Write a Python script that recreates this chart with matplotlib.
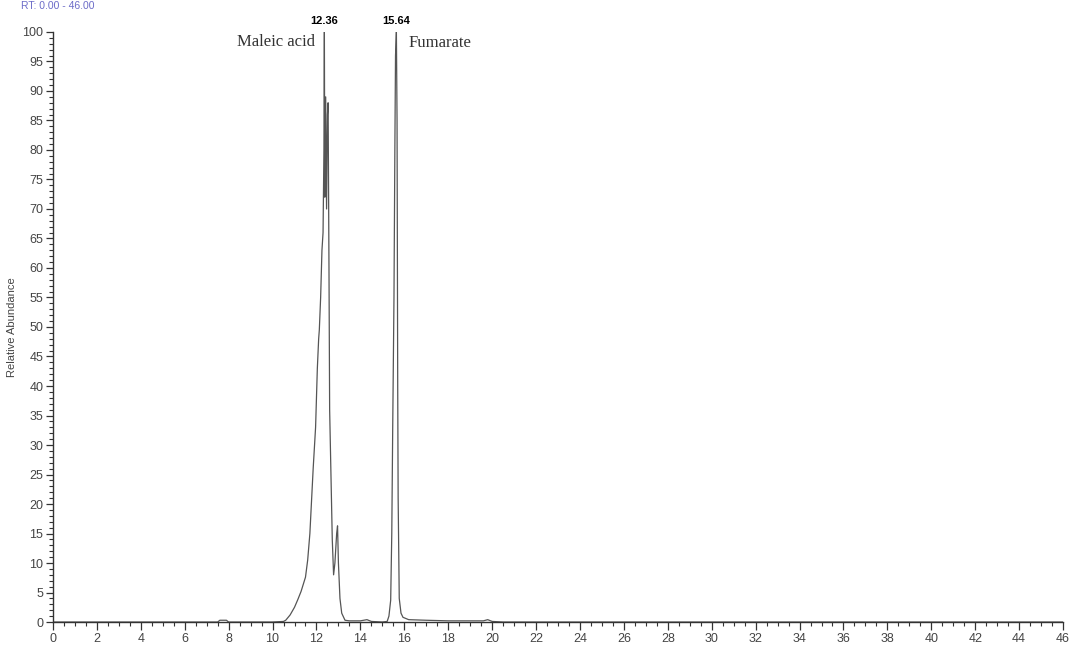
import matplotlib
matplotlib.use("Agg")
import matplotlib.pyplot as plt
from matplotlib.ticker import MultipleLocator

# retention time (min) and relative abundance (%) of the trace
rt = [0.0, 7.5, 7.6, 7.9, 8.0, 10.0, 10.5, 10.6, 10.8, 11.0, 11.15, 11.3, 11.5, 11.6,
      11.7, 11.85, 11.96, 12.04, 12.10, 12.13, 12.19, 12.25, 12.30, 12.34, 12.36,
      12.38, 12.42, 12.46, 12.50, 12.53, 12.57, 12.60, 12.66, 12.72, 12.78, 12.84,
      12.92, 12.96, 13.00, 13.07, 13.15, 13.30, 13.50, 14.0, 14.3, 14.5, 15.0,
      15.22, 15.30, 15.38, 15.43, 15.47, 15.53, 15.57, 15.60, 15.64, 15.67, 15.70,
      15.72, 15.77, 15.85, 15.94, 16.2, 17.0, 18.0, 19.6, 19.8, 20.0, 20.5, 46.0]
abundance = [0.0, 0.0, 0.3, 0.3, 0.0, 0.0, 0.1, 0.3, 1.2, 2.5, 3.8, 5.2, 7.6, 10.5,
             15.0, 26.0, 33.0, 43.0, 48.0, 49.5, 55.0, 63.0, 66.0, 80.0, 100.0,
             72.0, 89.0, 70.0, 86.0, 88.0, 60.0, 36.0, 25.0, 14.0, 8.0, 10.0,
             15.0, 16.3, 10.0, 4.0, 1.5, 0.3, 0.2, 0.2, 0.4, 0.1, 0.0,
             0.1, 1.0, 3.7, 15.0, 32.0, 55.0, 80.0, 96.0, 100.0, 85.0, 40.0,
             21.0, 4.0, 1.5, 0.8, 0.4, 0.3, 0.2, 0.2, 0.4, 0.1, 0.0, 0.0]

peak_rt = [12.36, 15.64]
peak_names = ["Maleic acid", "Fumarate"]

fig = plt.figure(figsize=(10.7, 6.47), dpi=100)
ax = fig.add_axes([0.0495, 0.0386, 0.944, 0.912])
ax.plot(rt, abundance, color="#555555", lw=0.9)

ax.set_xlim(0, 46)
ax.set_ylim(0, 100)
ax.xaxis.set_major_locator(MultipleLocator(2))
ax.xaxis.set_minor_locator(MultipleLocator(0.5))
ax.yaxis.set_major_locator(MultipleLocator(5))
ax.yaxis.set_minor_locator(MultipleLocator(1))
ax.tick_params(which="major", direction="out", length=5, width=0.9, color="#333333",
               labelsize=9, labelcolor="#444444", pad=2)
ax.tick_params(which="minor", direction="out", length=3, width=0.8, color="#333333")
ax.tick_params(axis="x", which="major", length=6)
for lab in ax.get_xticklabels() + ax.get_yticklabels():
    lab.set_family("Liberation Sans")

for side in ["top", "right"]:
    ax.spines[side].set_visible(False)
for side in ["left", "bottom"]:
    ax.spines[side].set_color("#333333")
    ax.spines[side].set_linewidth(1.0)

ax.set_ylabel("Relative Abundance", fontsize=8, family="Liberation Sans",
              color="#444444", labelpad=4)

# peak retention time labels
for t in peak_rt:
    ax.text(t, 101.0, f"{t:.2f}", ha="center", va="bottom", fontsize=8,
            fontweight="bold", family="Liberation Sans", clip_on=False)

ax.text(11.93, 98.3, peak_names[0], ha="right", va="center", fontsize=12,
        family="Liberation Serif", color="#333333")
ax.text(16.21, 98.1, peak_names[1], ha="left", va="center", fontsize=12,
        family="Liberation Serif", color="#333333")

fig.text(0.02, 0.999, "RT: 0.00 - 46.00", ha="left", va="top", fontsize=7.5,
         family="Liberation Sans", color="#6c6cc8")

fig.savefig("out.png", dpi=100)
